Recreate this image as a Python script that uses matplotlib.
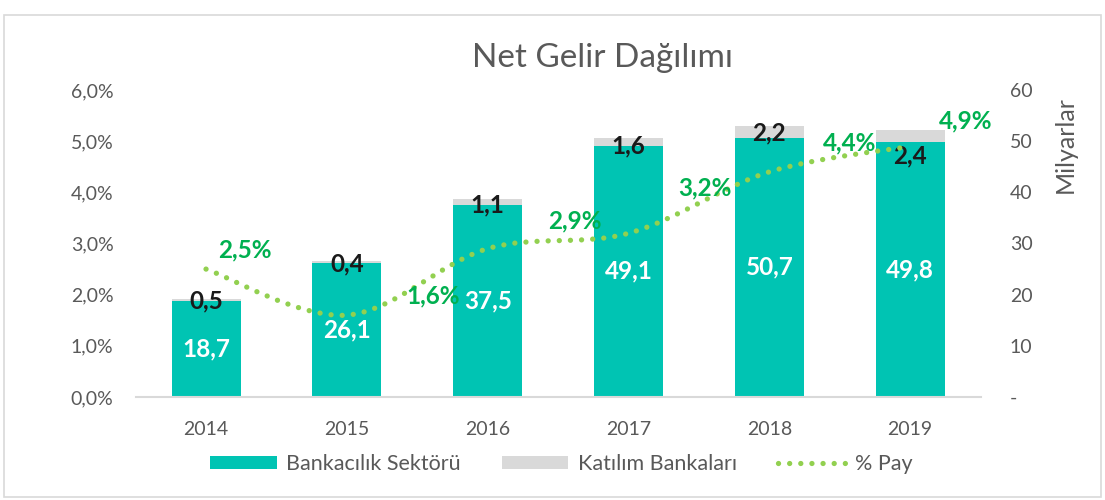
import matplotlib
matplotlib.use("Agg")
import matplotlib.pyplot as plt
from matplotlib.path import Path
from matplotlib.patches import PathPatch, Rectangle, Patch
from matplotlib.lines import Line2D

years = ["2014", "2015", "2016", "2017", "2018", "2019"]
bankacilik = [18.7, 26.1, 37.5, 49.1, 50.7, 49.8]
katilim = [0.5, 0.4, 1.1, 1.6, 2.2, 2.4]
pay = [2.5, 1.6, 2.9, 3.2, 4.4, 4.9]
pct_ticks = [0, 1, 2, 3, 4, 5, 6]
mly_ticks = [0, 10, 20, 30, 40, 50, 60]

# label offsets (points) for % labels and dark labels
pay_off = [(28, 14), (62, 14), (63, 20), (55, 33), (58, 21), (40, 18)]
kat_off = [0, 0, 0, 0, 3, -10]

TEAL = "#00C4B3"
GRAY = "#D9D9D9"
LGREEN = "#92D050"
DGREEN = "#00B050"
TXT = "#595959"
FONT = "Lato"

plt.rcParams["font.family"] = [FONT, "DejaVu Sans"]

fig = plt.figure(figsize=(11.05, 5), dpi=100)
ax = fig.add_axes([135.6 / 1105, 103 / 500, 845 / 1105, 307 / 500])
x = list(range(len(years)))

ax.bar(x, bankacilik, width=0.49, color=TEAL, zorder=2)
ax.bar(x, katilim, width=0.49, bottom=bankacilik, color=GRAY, zorder=2)
ax.set_ylim(0, 60)
ax.set_xlim(-0.5, len(years) - 0.5)
ax.set_xticks(x)
ax.set_xticklabels(years)
for s in ["top", "left", "right"]:
    ax.spines[s].set_visible(False)
ax.spines["bottom"].set_color(GRAY)
ax.spines["bottom"].set_linewidth(1.5)

for i in x:
    ax.text(i, bankacilik[i] / 2, f"{bankacilik[i]:.1f}".replace(".", ","),
            ha="center", va="center", color="white", fontsize=17.5, fontweight="bold", zorder=5)
    ax.annotate(f"{katilim[i]:.1f}".replace(".", ","), (i, bankacilik[i]),
                xytext=(0, kat_off[i]), textcoords="offset points",
                ha="center", va="center", color="#1a1a1a", fontsize=17.5, fontweight="bold", zorder=5)

ax2 = ax.twinx()
ax2.set_ylim(0, 6)
ax2.yaxis.tick_left()
ax2.set_yticks(pct_ticks)
ax2.set_yticklabels([f"{v:.1f}%".replace(".", ",") for v in pct_ticks])
ax2.tick_params(axis="y", length=0, pad=16, labelsize=14, labelcolor=TXT)
for s in ["top", "left", "right", "bottom"]:
    ax2.spines[s].set_visible(False)

ax.yaxis.tick_right()
ax.set_yticks(mly_ticks)
ax.set_yticklabels(["-" if v == 0 else str(v) for v in mly_ticks])
ax.tick_params(axis="y", length=0, pad=21, labelsize=14, labelcolor=TXT,
               left=False, labelleft=False, right=False, labelright=True)
ax.tick_params(axis="x", length=0, pad=17, labelsize=14, labelcolor=TXT)

# smoothed (Excel-like Catmull-Rom) line
pts = list(zip(x, pay))
verts = [pts[0]]
codes = [Path.MOVETO]
n = len(pts)
for i in range(n - 1):
    p0 = pts[max(i - 1, 0)]
    p1 = pts[i]
    p2 = pts[i + 1]
    p3 = pts[min(i + 2, n - 1)]
    c1 = (p1[0] + (p2[0] - p0[0]) / 6, p1[1] + (p2[1] - p0[1]) / 6)
    c2 = (p2[0] - (p3[0] - p1[0]) / 6, p2[1] - (p3[1] - p1[1]) / 6)
    verts += [c1, c2, p2]
    codes += [Path.CURVE4] * 3
dot_style = (0, (0.01, 2.1))
pp = PathPatch(Path(verts, codes), fill=False, edgecolor=LGREEN, lw=3.8,
               linestyle=dot_style, capstyle="round", zorder=4)
ax2.add_patch(pp)

for i in x:
    ax2.annotate(f"{pay[i]:.1f}%".replace(".", ","), (i, pay[i]),
                 xytext=pay_off[i], textcoords="offset points",
                 ha="center", va="center", color=DGREEN, fontsize=17.5, fontweight="bold", zorder=6)

fig.text(603 / 1105, 1 - 58 / 500, "Net Gelir Dağılımı", ha="center", va="center",
         fontsize=24, color=TXT)
fig.text(1065 / 1105, 1 - 145 / 500, "Milyarlar", rotation=90, ha="center", va="center",
         fontsize=18, color=TXT)

handles = [Patch(facecolor=TEAL, edgecolor="none"),
           Patch(facecolor=GRAY, edgecolor="none"),
           Line2D([0], [0], color=LGREEN, lw=3.8, linestyle=dot_style, dash_capstyle="round")]
labels = ["Bankacılık Sektörü", "Katılım Bankaları", "% Pay"]
fig.legend(handles, labels, loc="center", bbox_to_anchor=(561 / 1105, 1 - 464 / 500),
           ncol=3, frameon=False, fontsize=15.5, labelcolor=TXT, handlelength=3.1,
           handleheight=0.6, handletextpad=0.45, columnspacing=1.9)

fig.patches.append(Rectangle((4 / 1105, 3 / 500), 1097 / 1105, 482 / 500,
                             transform=fig.transFigure, fill=False,
                             edgecolor=GRAY, lw=1.2))

fig.savefig("out.png", dpi=100)
